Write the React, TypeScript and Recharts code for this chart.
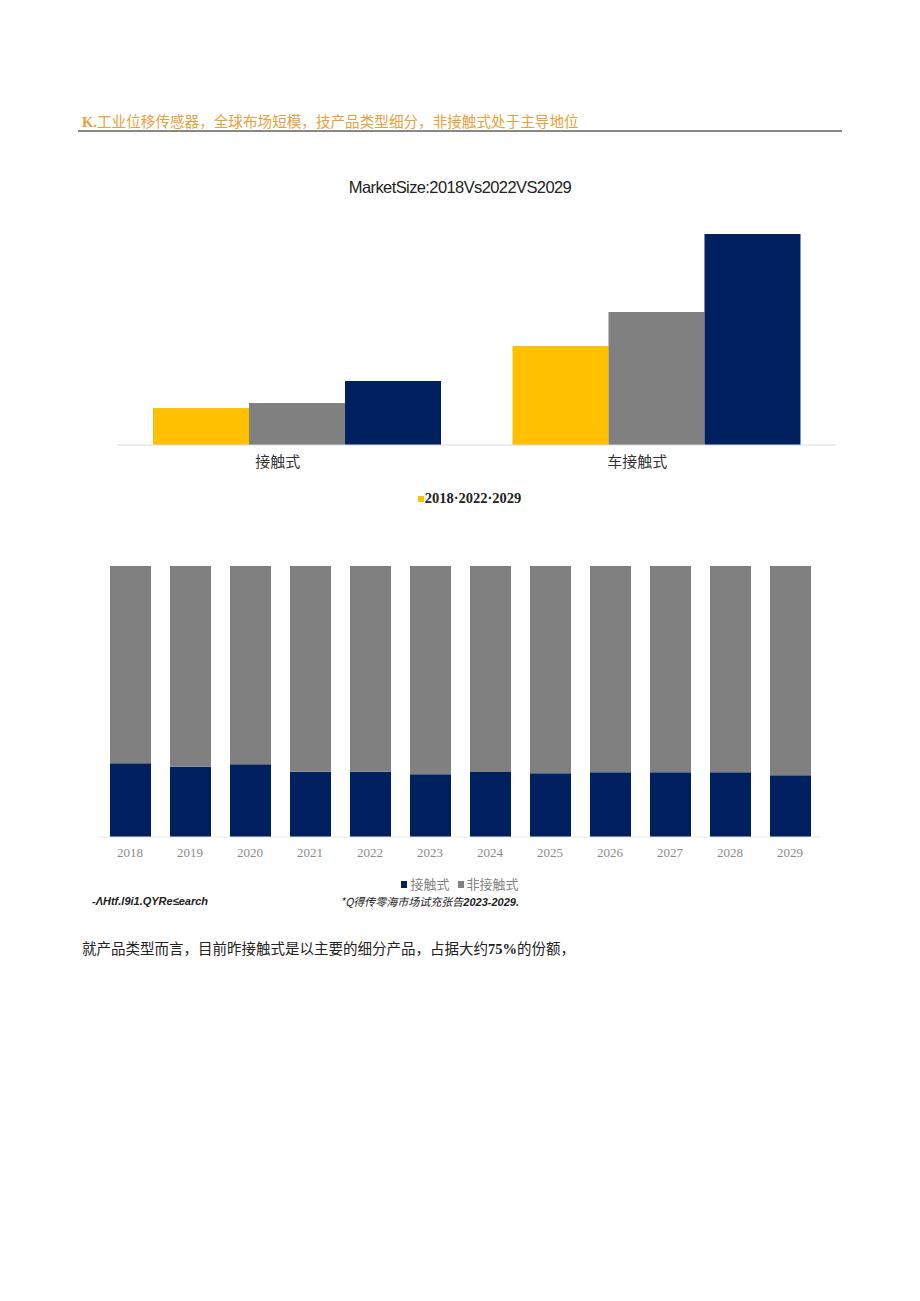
import React from "react";
import { BarChart, Bar, XAxis, YAxis, Legend } from "recharts";

// Chart 1: market size by product type
const sizeCategories = ["接触式", "车接触式"];
const size2018 = [37, 99];
const size2022 = [42, 133];
const size2029 = [64, 211];

// Chart 2: share by year
const years = ["2018", "2019", "2020", "2021", "2022", "2023", "2024", "2025", "2026", "2027", "2028", "2029"];
const contactShare = [27.2, 25.9, 26.8, 24.1, 24.1, 23.2, 24.0, 23.5, 23.9, 23.9, 23.9, 22.8];
const nonContactShare = [72.8, 74.1, 73.2, 75.9, 75.9, 76.8, 76.0, 76.5, 76.1, 76.1, 76.1, 77.2];

const YELLOW = "#FFC000";
const GRAY = "#808080";
const NAVY = "#002060";

const sizeData = sizeCategories.map((c, i) => ({
  name: c,
  y2018: size2018[i],
  y2022: size2022[i],
  y2029: size2029[i],
}));

const shareData = years.map((y, i) => ({
  year: y,
  contact: contactShare[i],
  nonContact: nonContactShare[i],
}));

const cjk = '"Noto Sans CJK SC", "Noto Sans", sans-serif';

const Legend1 = (props: any) => {
  const payload = props.payload || [];
  return (
    <div style={{ textAlign: "center", height: 24, lineHeight: "24px", paddingRight: 14 }}>
      <span
        style={{
          display: "inline-block",
          width: 6,
          height: 6,
          background: payload[0]?.color || YELLOW,
          marginRight: 1,
          verticalAlign: "middle",
        }}
      />
      <span style={{ fontFamily: '"Liberation Serif", serif', fontWeight: 700, fontSize: 14.5, color: "#222" }}>
        {payload.map((p: any) => p.value).join("·")}
      </span>
    </div>
  );
};

const Legend2 = (props: any) => {
  const payload = props.payload || [];
  return (
    <div style={{ textAlign: "center", height: 20, lineHeight: "20px" }}>
      {payload.map((p: any, i: number) => (
        <span key={i} style={{ marginRight: i === 0 ? 8 : 0 }}>
          <span
            style={{
              display: "inline-block",
              width: 6,
              height: 7,
              background: p.color,
              marginRight: 3,
              verticalAlign: "middle",
            }}
          />
          <span style={{ fontFamily: cjk, fontSize: 13, color: "#7f7f7f", verticalAlign: "middle" }}>{p.value}</span>
        </span>
      ))}
    </div>
  );
};

export default function App() {
  return (
    <div style={{ position: "absolute", left: 0, top: 0, width: 920, height: 1301, background: "#fff" }}>
      {/* Header */}
      <div
        style={{
          position: "absolute",
          left: 82,
          top: 111,
          fontFamily: cjk,
          fontSize: 14.6,
          color: "#E8A03C",
          whiteSpace: "nowrap",
          lineHeight: "20px",
        }}
      >
        <span style={{ fontFamily: '"Liberation Serif", serif', fontWeight: 700 }}>K.</span>
        工业位移传感器，全球布场短模，技产品类型细分，非接触式处于主导地位
      </div>
      <div style={{ position: "absolute", left: 78, top: 130, width: 764, height: 2, background: "#888" }} />

      {/* Title chart 1 */}
      <div
        style={{
          position: "absolute",
          left: 0,
          width: 920,
          top: 177,
          textAlign: "center",
          fontFamily: '"Liberation Sans", Arial, sans-serif',
          fontSize: 16.5,
          color: "#222",
          letterSpacing: -0.6,
          lineHeight: "20px",
        }}
      >
        MarketSize:2018Vs2022VS2029
      </div>

      <div style={{ position: "absolute", left: 0, top: 200 }}>
        <BarChart
          width={920}
          height={310}
          data={sizeData}
          margin={{ top: 20, right: 84, bottom: 0, left: 117 }}
          barGap={0}
          barSize={96}
        >
          <XAxis
            dataKey="name"
            height={41}
            tickSize={0}
            tickMargin={11}
            axisLine={{ stroke: "#D9D9D9", strokeWidth: 1 }}
            tick={{ fontFamily: cjk, fontSize: 15, fill: "#333", dx: -19 }}
          />
          <YAxis hide domain={[0, 225]} />
          <Legend
            verticalAlign="bottom"
            content={<Legend1 />}
            wrapperStyle={{ height: 24 }}
          />
          <Bar dataKey="y2018" name="2018" fill={YELLOW} isAnimationActive={false} />
          <Bar dataKey="y2022" name="2022" fill={GRAY} isAnimationActive={false} />
          <Bar dataKey="y2029" name="2029" fill={NAVY} isAnimationActive={false} />
        </BarChart>
      </div>

      <div style={{ position: "absolute", left: 0, top: 550 }}>
        <BarChart
          width={920}
          height={343}
          data={shareData}
          stackOffset="expand"
          margin={{ top: 16, right: 100, bottom: 0, left: 100 }}
          barSize={41}
        >
          <XAxis
            dataKey="year"
            height={36}
            tickSize={0}
            tickMargin={11}
            axisLine={{ stroke: "#E6E6E6", strokeWidth: 1 }}
            tick={{ fontFamily: '"Liberation Serif", serif', fontSize: 13, fill: "#8a8a8a" }}
          />
          <YAxis hide domain={[0, 1]} />
          <Legend verticalAlign="bottom" content={<Legend2 />} wrapperStyle={{ height: 20 }} />
          <Bar dataKey="contact" name="接触式" stackId="a" fill={NAVY} isAnimationActive={false} />
          <Bar dataKey="nonContact" name="非接触式" stackId="a" fill={GRAY} isAnimationActive={false} />
        </BarChart>
      </div>

      {/* Source line */}
      <div
        style={{
          position: "absolute",
          left: 92,
          top: 894,
          fontFamily: '"Liberation Sans", Arial, sans-serif',
          fontSize: 11,
          fontStyle: "italic",
          fontWeight: 700,
          color: "#222",
          whiteSpace: "nowrap",
          lineHeight: "14px",
        }}
      >
        -ΛHtf.l9i1.QYRe≤earch
      </div>
      <div
        style={{
          position: "absolute",
          left: 340,
          top: 894,
          fontFamily: cjk,
          fontSize: 11,
          fontStyle: "italic",
          color: "#222",
          whiteSpace: "nowrap",
          lineHeight: "14px",
        }}
      >
        *Q得传零海市场试充张告
        <span style={{ fontFamily: '"Liberation Sans", Arial, sans-serif', fontWeight: 700 }}>2023-2029.</span>
      </div>

      {/* Body text */}
      <div
        style={{
          position: "absolute",
          left: 82,
          top: 938,
          fontFamily: cjk,
          fontSize: 14.5,
          color: "#222",
          whiteSpace: "nowrap",
          lineHeight: "20px",
        }}
      >
        就产品类型而言，目前昨接触式是以主要的细分产品，占据大约
        <span style={{ fontFamily: '"Liberation Serif", serif', fontWeight: 700 }}>75%</span>
        的份额，
      </div>
    </div>
  );
}
